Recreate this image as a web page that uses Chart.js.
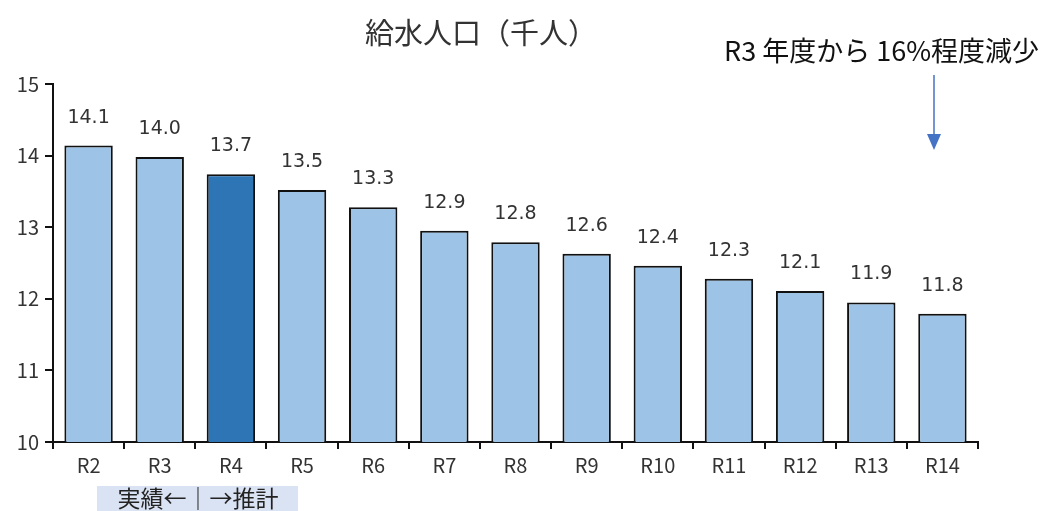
<!DOCTYPE html>
<html>
<head>
<meta charset="utf-8">
<script src="https://cdn.jsdelivr.net/npm/chart.js@4"></script>
<style>
body { margin: 0; background: #fff; }
canvas { display: block; }
</style>
</head>
<body>
<canvas id="chart" width="1045" height="511"></canvas>
<script>
var categories = ['R2', 'R3', 'R4', 'R5', 'R6', 'R7', 'R8', 'R9', 'R10', 'R11', 'R12', 'R13', 'R14'];
var values = [14.14, 13.98, 13.74, 13.52, 13.28, 12.95, 12.79, 12.63, 12.46, 12.28, 12.11, 11.95, 11.79];
var valueLabels = ['14.1', '14.0', '13.7', '13.5', '13.3', '12.9', '12.8', '12.6', '12.4', '12.3', '12.1', '11.9', '11.8'];
var yTicks = [10, 11, 12, 13, 14, 15];

var jp = '"Noto Sans CJK JP", "Noto Sans", sans-serif';

var colors = categories.map(function(c) {
    return c === 'R4' ? '#2E75B6' : '#9DC3E6';
});

var extras = {
    id: 'extras',
    afterDatasetsDraw: function(chart) {
        var ctx = chart.ctx;
        var meta = chart.getDatasetMeta(0);
        ctx.save();
        ctx.fillStyle = '#333';
        ctx.font = '19px "DejaVu Sans", sans-serif';
        ctx.textAlign = 'center';
        ctx.textBaseline = 'middle';
        meta.data.forEach(function(bar, i) {
            ctx.fillText(valueLabels[i], bar.x, bar.y - 28);
        });
        ctx.restore();
    },
    afterDraw: function(chart) {
        var ctx = chart.ctx;
        ctx.save();
        // title
        ctx.fillStyle = '#333';
        ctx.font = '29px ' + jp;
        ctx.textAlign = 'center';
        ctx.textBaseline = 'middle';
        ctx.fillText('給水人口（千人）', 481, 33);
        // annotation
        ctx.fillStyle = '#111';
        ctx.font = '27px ' + jp;
        ctx.textAlign = 'left';
        ctx.fillText('R3 年度から 16%程度減少', 724, 51);
        // arrow
        ctx.strokeStyle = '#4472C4';
        ctx.fillStyle = '#4472C4';
        ctx.lineWidth = 1.5;
        ctx.beginPath();
        ctx.moveTo(934, 75);
        ctx.lineTo(934, 136);
        ctx.stroke();
        ctx.beginPath();
        ctx.moveTo(927, 134);
        ctx.lineTo(941, 134);
        ctx.lineTo(934, 150);
        ctx.closePath();
        ctx.fill();
        // actual / forecast box
        ctx.fillStyle = '#DAE3F3';
        ctx.fillRect(97, 486, 201, 25);
        ctx.fillStyle = '#222';
        ctx.font = '23px ' + jp;
        ctx.textAlign = 'center';
        ctx.fillText('実績←｜→推計', 198, 498);
        ctx.restore();
    }
};

var chart = new Chart(document.getElementById('chart'), {
    type: 'bar',
    data: {
        labels: categories,
        datasets: [{
            data: values,
            backgroundColor: colors,
            borderColor: '#111',
            borderWidth: 2,
            categoryPercentage: 1,
            barPercentage: 0.68
        }]
    },
    options: {
        responsive: false,
        animation: false,
        layout: { padding: { top: 84, right: 67, left: 0, bottom: 0 } },
        plugins: {
            legend: { display: false },
            tooltip: { enabled: false }
        },
        scales: {
            x: {
                grid: { display: true, offset: true, drawOnChartArea: false, color: '#111', tickLength: 7, lineWidth: 2 },
                border: { color: '#111', width: 2 },
                ticks: { color: '#333', font: { size: 20, family: jp }, padding: 4 },
                afterFit: function(scale) { scale.height = 69; }
            },
            y: {
                min: 10,
                max: 15,
                afterBuildTicks: function(scale) {
                    scale.ticks = yTicks.map(function(v) { return { value: v }; });
                },
                grid: { display: true, drawOnChartArea: false, color: '#111', tickLength: 8, lineWidth: 2 },
                border: { color: '#111', width: 2 },
                ticks: { color: '#333', font: { size: 20, family: jp }, padding: 6 },
                afterFit: function(scale) { scale.width = 53; }
            }
        }
    },
    plugins: [extras]
});
</script>
</body>
</html>
